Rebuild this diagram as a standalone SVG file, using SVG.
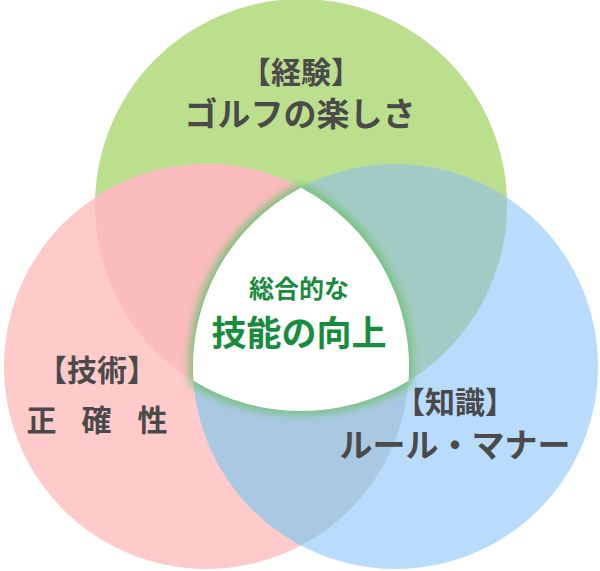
<svg xmlns="http://www.w3.org/2000/svg" width="600" height="571" viewBox="0 0 600 571">
  <defs>
    <clipPath id="cG"><circle cx="301" cy="205" r="206"/></clipPath>
    <clipPath id="cR"><circle cx="206.5" cy="366.5" r="202.5"/></clipPath>
    <clipPath id="cB"><circle cx="395.5" cy="366.5" r="202.5"/></clipPath>
    <filter id="glow" x="-20%" y="-20%" width="140%" height="140%">
      <feMorphology in="SourceAlpha" operator="dilate" radius="3" result="d"/>
      <feGaussianBlur in="d" stdDeviation="5" result="b"/>
      <feFlood flood-color="#70c274" result="f"/>
      <feComposite in="f" in2="b" operator="in" result="g"/>
      <feMerge><feMergeNode in="g"/><feMergeNode in="SourceGraphic"/></feMerge>
    </filter>
    <style>
      .lbl { font-family: "Noto Sans CJK JP", "Noto Sans CJK SC", sans-serif; font-weight: 700; fill: #4a4a4a; text-anchor: middle; }
      .ctr { font-family: "Noto Sans CJK JP", "Noto Sans CJK SC", sans-serif; font-weight: 700; fill: #168c3c; text-anchor: middle; }
    </style>
  </defs>

  <g id="circles">
    <circle id="c-experience" cx="301" cy="205" r="206" fill="#bcdf8e"/>
    <circle id="c-skill" cx="206.5" cy="366.5" r="202.5" fill="#ffcaca"/>
    <circle id="c-knowledge" cx="395.5" cy="366.5" r="202.5" fill="#b9dcfc"/>
    <g clip-path="url(#cG)"><circle cx="206.5" cy="366.5" r="202.5" fill="#fbbcbd"/></g>
    <g clip-path="url(#cG)"><circle cx="395.5" cy="366.5" r="202.5" fill="#a3cbc5"/></g>
    <g clip-path="url(#cR)"><circle cx="395.5" cy="366.5" r="202.5" fill="#a9c8e2"/></g>
  </g>

  <g id="center">
    <path filter="url(#glow)" fill="#ffffff" d="M 301 187.7 A 202.5 202.5 0 0 0 193.5 380.7 A 206 206 0 0 0 408.5 380.7 A 202.5 202.5 0 0 0 301 187.7 Z"/>
    <text class="ctr" x="299" y="298" font-size="25">総合的な</text>
    <text class="ctr" x="299" y="346" font-size="35">技能の向上</text>
  </g>

  <g id="experience">
    <text class="lbl" x="301" y="83" font-size="30">【経験】</text>
    <text class="lbl" x="300" y="126" font-size="33">ゴルフの楽しさ</text>
  </g>

  <g id="skill">
    <text class="lbl" x="97" y="381" font-size="30">【技術】</text>
    <text class="lbl" x="97" y="431" font-size="30"><tspan x="41.5">正</tspan><tspan x="96.5">確</tspan><tspan x="152.5">性</tspan></text>
  </g>

  <g id="knowledge">
    <text class="lbl" x="455" y="413" font-size="30">【知識】</text>
    <text class="lbl" x="455" y="457" font-size="33">ルール・マナー</text>
  </g>
</svg>
